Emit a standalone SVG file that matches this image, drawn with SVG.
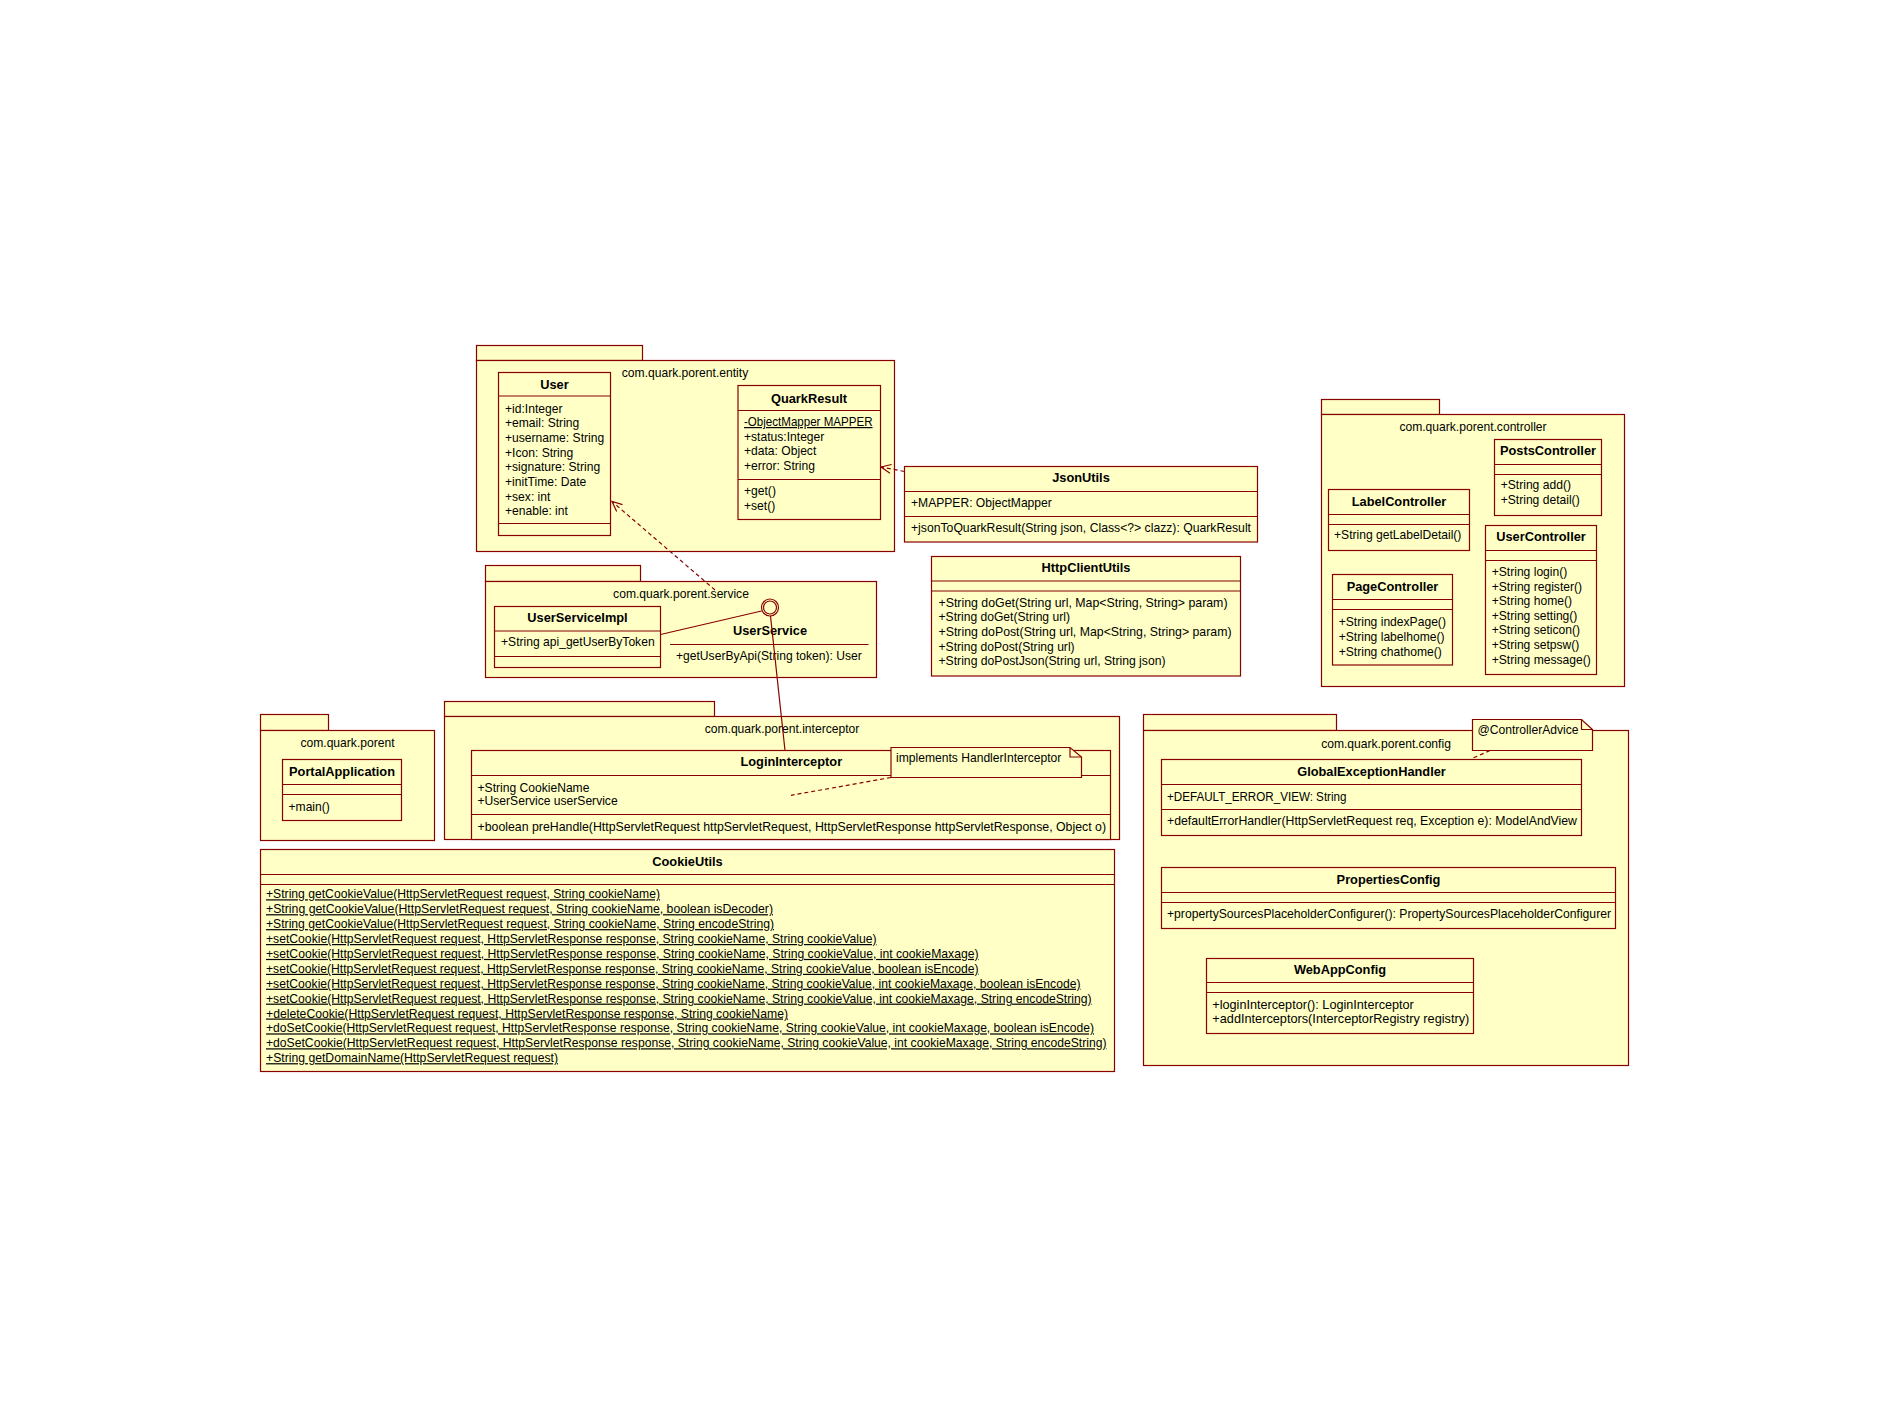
<svg xmlns="http://www.w3.org/2000/svg" width="1890" height="1417" viewBox="0 0 1890 1417">
<style>
.s{fill:#ffffc6;stroke:#880000;stroke-width:1.2}
.l{fill:none;stroke:#880000;stroke-width:1.2}
.d{stroke-dasharray:4 3}
text{font-family:"Liberation Sans",Arial,sans-serif;font-size:12.1px;fill:#000}
.b{font-weight:bold;font-size:12.8px;text-anchor:middle}
.m{text-anchor:middle}
.u{text-decoration:underline}
</style>
<defs>
<marker id="open" markerUnits="userSpaceOnUse" markerWidth="14" markerHeight="12" refX="11" refY="5" orient="auto">
<path d="M1,0.5 L11,5 L1,9.5" fill="none" stroke="#880000" stroke-width="1.2"/>
</marker>
</defs>
<rect width="1890" height="1417" fill="#fff"/>

<g id="pkg-entity">
<rect class="s" x="476.5" y="345.5" width="166" height="15"/>
<rect class="s" x="476.5" y="360.5" width="418" height="191"/>
<text class="m" x="685" y="377">com.quark.porent.entity</text>
</g>
<g id="pkg-service">
<rect class="s" x="485.5" y="565.5" width="155" height="16"/>
<rect class="s" x="485.5" y="581.5" width="391" height="96"/>
<text class="m" x="681" y="598.3">com.quark.porent.service</text>
</g>
<g id="pkg-controller">
<rect class="s" x="1321.5" y="399.5" width="118" height="15"/>
<rect class="s" x="1321.5" y="414.5" width="303" height="272"/>
<text class="m" x="1473" y="431">com.quark.porent.controller</text>
</g>
<g id="pkg-portal">
<rect class="s" x="260.5" y="714.5" width="68" height="16"/>
<rect class="s" x="260.5" y="730.5" width="174" height="110"/>
<text class="m" x="347.5" y="747.3">com.quark.porent</text>
</g>
<g id="pkg-interceptor">
<rect class="s" x="444.5" y="701.5" width="270" height="15"/>
<rect class="s" x="444.5" y="716.5" width="675" height="123"/>
<text class="m" x="782" y="733.3">com.quark.porent.interceptor</text>
</g>
<g id="pkg-config">
<rect class="s" x="1143.5" y="714.5" width="193" height="16"/>
<rect class="s" x="1143.5" y="730.5" width="485" height="335"/>
<text class="m" x="1386" y="747.7">com.quark.porent.config</text>
</g>

<g id="User">
<rect class="s" x="498.5" y="372.5" width="112" height="163"/>
<path class="l" d="M498.5 396H610.5M498.5 523.5H610.5"/>
<text class="b" x="554.5" y="388.5">User</text>
<text x="505" y="412.5">+id:Integer</text>
<text x="505" y="427.2">+email: String</text>
<text x="505" y="441.9">+username: String</text>
<text x="505" y="456.6">+Icon: String</text>
<text x="505" y="471.3">+signature: String</text>
<text x="505" y="486">+initTime: Date</text>
<text x="505" y="500.7">+sex: int</text>
<text x="505" y="515.4">+enable: int</text>
</g>

<g id="QuarkResult">
<rect class="s" x="738" y="385.5" width="142.5" height="134"/>
<path class="l" d="M738 410.5H880.5M738 479.5H880.5"/>
<text class="b" x="809" y="402.5">QuarkResult</text>
<text class="u" x="744" y="426" textLength="128.5" lengthAdjust="spacingAndGlyphs">-ObjectMapper MAPPER</text>
<text x="744" y="440.7">+status:Integer</text>
<text x="744" y="455.4">+data: Object</text>
<text x="744" y="470.1">+error: String</text>
<text x="744" y="495">+get()</text>
<text x="744" y="509.7">+set()</text>
</g>

<g id="JsonUtils">
<rect class="s" x="904.5" y="466.5" width="353" height="75.5"/>
<path class="l" d="M904.5 491.5H1257.5M904.5 516.5H1257.5"/>
<text class="b" x="1081" y="482.3">JsonUtils</text>
<text x="911" y="506.7">+MAPPER: ObjectMapper</text>
<text x="911" y="532" textLength="340" lengthAdjust="spacingAndGlyphs">+jsonToQuarkResult(String json, Class&lt;?&gt; clazz): QuarkResult</text>
</g>

<g id="HttpClientUtils">
<rect class="s" x="931.5" y="556.5" width="309" height="119.5"/>
<path class="l" d="M931.5 581H1240.5M931.5 591H1240.5"/>
<text class="b" x="1086" y="572.3">HttpClientUtils</text>
<text x="938.5" y="606.7" textLength="289" lengthAdjust="spacingAndGlyphs">+String doGet(String url, Map&lt;String, String&gt; param)</text>
<text x="938.5" y="621.3">+String doGet(String url)</text>
<text x="938.5" y="636" textLength="293" lengthAdjust="spacingAndGlyphs">+String doPost(String url, Map&lt;String, String&gt; param)</text>
<text x="938.5" y="650.7">+String doPost(String url)</text>
<text x="938.5" y="665.3" textLength="227" lengthAdjust="spacingAndGlyphs">+String doPostJson(String url, String json)</text>
</g>

<g id="UserServiceImpl">
<rect class="s" x="494.5" y="606.5" width="166" height="61"/>
<path class="l" d="M494.5 631H660.5M494.5 656.5H660.5"/>
<text class="b" x="577.5" y="622">UserServiceImpl</text>
<text x="501" y="646">+String api_getUserByToken</text>
</g>

<g id="UserService">
<circle class="s" cx="770" cy="607.5" r="8.5"/>
<circle class="l" cx="770" cy="607.5" r="6.5" stroke-width="0.6"/>
<text class="b" x="770" y="634.7">UserService</text>
<path class="l" d="M670 644.5H868.5"/>
<text x="676" y="660">+getUserByApi(String token): User</text>
</g>

<g id="PostsController">
<rect class="s" x="1494.5" y="439.5" width="107" height="76"/>
<path class="l" d="M1494.5 464.5H1601.5M1494.5 474.5H1601.5"/>
<text class="b" x="1548" y="455.3">PostsController</text>
<text x="1500.7" y="489.3">+String add()</text>
<text x="1500.7" y="504">+String detail()</text>
</g>

<g id="LabelController">
<rect class="s" x="1328.5" y="489.5" width="141" height="61"/>
<path class="l" d="M1328.5 514.5H1469.5M1328.5 524.5H1469.5"/>
<text class="b" x="1399" y="505.5">LabelController</text>
<text x="1334" y="539.3">+String getLabelDetail()</text>
</g>

<g id="UserController">
<rect class="s" x="1485.5" y="525.5" width="111" height="149"/>
<path class="l" d="M1485.5 550.5H1596.5M1485.5 560.5H1596.5"/>
<text class="b" x="1541" y="541">UserController</text>
<text x="1491.7" y="576">+String login()</text>
<text x="1491.7" y="590.6">+String register()</text>
<text x="1491.7" y="605.2">+String home()</text>
<text x="1491.7" y="619.8">+String setting()</text>
<text x="1491.7" y="634.4">+String seticon()</text>
<text x="1491.7" y="649">+String setpsw()</text>
<text x="1491.7" y="663.6">+String message()</text>
</g>

<g id="PageController">
<rect class="s" x="1332.5" y="574.5" width="120" height="90.5"/>
<path class="l" d="M1332.5 599.5H1452.5M1332.5 609.5H1452.5"/>
<text class="b" x="1392.5" y="591">PageController</text>
<text x="1338.7" y="626.3">+String indexPage()</text>
<text x="1338.7" y="641">+String labelhome()</text>
<text x="1338.7" y="655.5">+String chathome()</text>
</g>

<g id="PortalApplication">
<rect class="s" x="282.5" y="759.5" width="119" height="61"/>
<path class="l" d="M282.5 784.5H401.5M282.5 794.5H401.5"/>
<text class="b" x="342" y="776">PortalApplication</text>
<text x="288.5" y="810.7">+main()</text>
</g>

<g id="LoginInterceptor">
<rect class="s" x="471.5" y="750.5" width="639" height="89"/>
<path class="l" d="M471.5 775.5H1110.5M471.5 814.5H1110.5"/>
<text class="b" x="791.3" y="766">LoginInterceptor</text>
<text x="477.5" y="791.7">+String CookieName</text>
<text x="477.5" y="805">+UserService userService</text>
<text x="477.5" y="830.7" textLength="628.5" lengthAdjust="spacingAndGlyphs">+boolean preHandle(HttpServletRequest httpServletRequest, HttpServletResponse httpServletResponse, Object o)</text>
</g>

<g id="note-implements">
<path class="s" d="M891 747.5H1070L1081.5 757V777.5H891Z"/>
<path class="l" d="M1070 747.5V757H1081.5"/>
<text x="896" y="761.7">implements HandlerInterceptor</text>
</g>

<g id="CookieUtils">
<rect class="s" x="260.5" y="849.5" width="854" height="222"/>
<path class="l" d="M260.5 874.5H1114.5M260.5 884.5H1114.5"/>
<text class="b" x="687.5" y="866">CookieUtils</text>
<text class="u" x="266" y="898.3" textLength="394" lengthAdjust="spacingAndGlyphs">+String getCookieValue(HttpServletRequest request, String cookieName)</text>
<text class="u" x="266" y="913.2" textLength="507" lengthAdjust="spacingAndGlyphs">+String getCookieValue(HttpServletRequest request, String cookieName, boolean isDecoder)</text>
<text class="u" x="266" y="928.1" textLength="508" lengthAdjust="spacingAndGlyphs">+String getCookieValue(HttpServletRequest request, String cookieName, String encodeString)</text>
<text class="u" x="266" y="943" textLength="610.5" lengthAdjust="spacingAndGlyphs">+setCookie(HttpServletRequest request, HttpServletResponse response, String cookieName, String cookieValue)</text>
<text class="u" x="266" y="957.9" textLength="712.5" lengthAdjust="spacingAndGlyphs">+setCookie(HttpServletRequest request, HttpServletResponse response, String cookieName, String cookieValue, int cookieMaxage)</text>
<text class="u" x="266" y="972.8" textLength="712.5" lengthAdjust="spacingAndGlyphs">+setCookie(HttpServletRequest request, HttpServletResponse response, String cookieName, String cookieValue, boolean isEncode)</text>
<text class="u" x="266" y="987.7" textLength="814.5" lengthAdjust="spacingAndGlyphs">+setCookie(HttpServletRequest request, HttpServletResponse response, String cookieName, String cookieValue, int cookieMaxage, boolean isEncode)</text>
<text class="u" x="266" y="1002.6" textLength="825.5" lengthAdjust="spacingAndGlyphs">+setCookie(HttpServletRequest request, HttpServletResponse response, String cookieName, String cookieValue, int cookieMaxage, String encodeString)</text>
<text class="u" x="266" y="1017.5" textLength="522" lengthAdjust="spacingAndGlyphs">+deleteCookie(HttpServletRequest request, HttpServletResponse response, String cookieName)</text>
<text class="u" x="266" y="1032.4" textLength="828" lengthAdjust="spacingAndGlyphs">+doSetCookie(HttpServletRequest request, HttpServletResponse response, String cookieName, String cookieValue, int cookieMaxage, boolean isEncode)</text>
<text class="u" x="266" y="1047.3" textLength="840.5" lengthAdjust="spacingAndGlyphs">+doSetCookie(HttpServletRequest request, HttpServletResponse response, String cookieName, String cookieValue, int cookieMaxage, String encodeString)</text>
<text class="u" x="266" y="1062.2" textLength="292" lengthAdjust="spacingAndGlyphs">+String getDomainName(HttpServletRequest request)</text>
</g>

<g id="GlobalExceptionHandler">
<rect class="s" x="1161.5" y="759.5" width="420" height="76"/>
<path class="l" d="M1161.5 784.5H1581.5M1161.5 809.5H1581.5"/>
<text class="b" x="1371.5" y="775.5">GlobalExceptionHandler</text>
<text x="1167" y="800.7" textLength="179.5" lengthAdjust="spacingAndGlyphs">+DEFAULT_ERROR_VIEW: String</text>
<text x="1167" y="825" textLength="410" lengthAdjust="spacingAndGlyphs">+defaultErrorHandler(HttpServletRequest req, Exception e): ModelAndView</text>
</g>

<g id="note-controlleradvice">
<path class="s" d="M1472.5 719.5H1581.5L1592.5 729.5V750.5H1472.5Z"/>
<path class="l" d="M1581.5 719.5V729.5H1592.5"/>
<text x="1477.5" y="734">@ControllerAdvice</text>
</g>

<g id="PropertiesConfig">
<rect class="s" x="1161.5" y="867.5" width="454" height="61"/>
<path class="l" d="M1161.5 892.5H1615.5M1161.5 902.5H1615.5"/>
<text class="b" x="1388.5" y="884">PropertiesConfig</text>
<text x="1167" y="918.3" textLength="444" lengthAdjust="spacingAndGlyphs">+propertySourcesPlaceholderConfigurer(): PropertySourcesPlaceholderConfigurer</text>
</g>

<g id="WebAppConfig">
<rect class="s" x="1206.5" y="958.5" width="267" height="75"/>
<path class="l" d="M1206.5 982.5H1473.5M1206.5 992.5H1473.5"/>
<text class="b" x="1340" y="974">WebAppConfig</text>
<text x="1212.3" y="1008.7" textLength="201.5" lengthAdjust="spacingAndGlyphs">+loginInterceptor(): LoginInterceptor</text>
<text x="1212.3" y="1023.3" textLength="257" lengthAdjust="spacingAndGlyphs">+addInterceptors(InterceptorRegistry registry)</text>
</g>

<g id="connectors">
<line class="l d" x1="904.5" y1="471.5" x2="881" y2="467" marker-end="url(#open)"/>
<line class="l d" x1="715" y1="590" x2="612" y2="501.5" marker-end="url(#open)"/>
<line class="l" x1="660.5" y1="634.5" x2="761.5" y2="611"/>
<line class="l" x1="770.5" y1="616" x2="785" y2="750.5"/>
<line class="l d" x1="891" y1="777.5" x2="791" y2="795.3"/>
<line class="l d" x1="1490" y1="750.5" x2="1472" y2="758.5"/>
</g>
</svg>
